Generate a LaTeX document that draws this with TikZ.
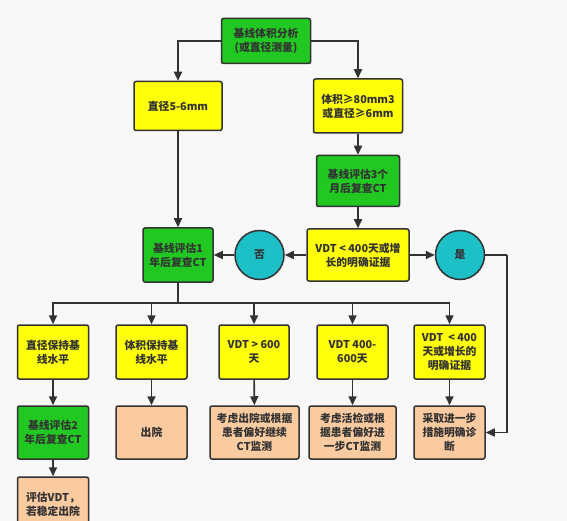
\documentclass[tikz,border=0pt]{standalone}
\usepackage{fontspec}
\newfontfamily\cjk{Noto Sans CJK SC}
\usetikzlibrary{arrows.meta}
\definecolor{boxgreen}{RGB}{34,200,34}
\definecolor{boxyellow}{RGB}{255,255,10}
\definecolor{boxpeach}{RGB}{250,202,160}
\definecolor{boxteal}{RGB}{30,192,200}
\definecolor{edge}{RGB}{50,50,50}
\definecolor{paper}{RGB}{248,248,248}
\tikzset{
  box/.style={draw=edge, line width=1.5pt, rounded corners=2pt, align=center,
    inner sep=1pt, text=edge, font=\cjk\bfseries\fontsize{10.8}{14}\selectfont},
  greenbox/.style={box, fill=boxgreen},
  yellowbox/.style={box, fill=boxyellow},
  peachbox/.style={box, fill=boxpeach},
  answer/.style={box, circle, fill=boxteal, minimum size=49pt, rounded corners=0pt},
  arr/.style={draw=edge, line width=1.6pt, -{Triangle[length=9pt,width=8pt]}},
  link/.style={draw=edge, line width=1.6pt}
}
\begin{document}
\begin{tikzpicture}[x=1pt,y=1pt]
    \fill[paper] (0,0) rectangle (567,-521);
    \useasboundingbox (0,0) rectangle (567,-521);
    % top part
    \node[greenbox, minimum width=89pt, minimum height=45pt] (base) at (266,-41) {基线体积分析\\(或直径测量)};
    \node[yellowbox, minimum width=88pt, minimum height=49pt] (diam) at (178,-106) {直径5-6mm};
    \node[yellowbox, minimum width=89pt, minimum height=54pt] (big) at (358,-106) {体积≥80mm3\\或直径≥6mm};
    \node[greenbox, minimum width=83pt, minimum height=51pt] (ct3m) at (358,-181) {基线评估3个\\月后复查CT};
    \node[greenbox, minimum width=70pt, minimum height=54pt] (ct1y) at (178,-255) {基线评估1\\年后复查CT};
    \node[answer] (no) at (259.5,-255) {否};
    \node[yellowbox, minimum width=102pt, minimum height=52pt] (vdt) at (358,-255) {VDT < 400天或增\\长的明确证据};
    \node[answer] (yes) at (460,-255) {是};
    % middle row
    \node[yellowbox, minimum width=71pt, minimum height=54pt] (r1) at (53,-352) {直径保持基\\线水平};
    \node[yellowbox, minimum width=71pt, minimum height=54pt] (r2) at (151.5,-352) {体积保持基\\线水平};
    \node[yellowbox, minimum width=70pt, minimum height=54pt] (r3) at (254,-352) {VDT > 600\\天};
    \node[yellowbox, minimum width=71pt, minimum height=54pt] (r4) at (352.5,-352) {VDT 400-\\600天};
    \node[yellowbox, minimum width=71pt, minimum height=54pt] (r5) at (449.5,-352) {VDT \ < 400\\天或增长的\\明确证据};
    % lower row
    \node[greenbox, minimum width=71pt, minimum height=53pt] (s1) at (53,-432.5) {基线评估2\\年后复查CT};
    \node[peachbox, minimum width=71pt, minimum height=53pt] (s2) at (151.5,-432.5) {出院};
    \node[peachbox, minimum width=89pt, minimum height=53pt] (s3) at (254.5,-432.5) {考虑出院或根据\\患者偏好继续\\CT监测};
    \node[peachbox, minimum width=87pt, minimum height=53pt] (s4) at (352.5,-432.5) {考虑活检或根\\据患者偏好进\\一步CT监测};
    \node[peachbox, minimum width=71pt, minimum height=53pt] (s5) at (449.5,-432.5) {采取进一步\\措施明确诊\\断};
    \node[peachbox, minimum width=71pt, minimum height=55pt] (last) at (53,-504.5) {评估VDT，\\若稳定出院};
    \coordinate (split) at (178,-303);
    \coordinate (turn) at (507,-255);
    % connectors
    \draw[arr] (base.west) -| (diam.north);
    \draw[arr] (base.east) -| (big.north);
    \draw[arr] (big) -- (ct3m);
    \draw[arr] (ct3m) -- (vdt);
    \draw[arr] (diam) -- (ct1y);
    \draw[arr] (vdt) -- (no);
    \draw[arr] (no) -- (ct1y);
    \draw[arr] (vdt) -- (yes);
    \draw[link] (yes.east) -- (turn);
    \draw[arr] (turn) |- (s5.east);
    \draw[link] (ct1y.south) -- (split);
    \foreach \i in {1,...,5}
        \draw[arr] (split) -| (r\i.north);
    \foreach \i in {1,...,5}
        \draw[arr] (r\i) -- (s\i);
    \draw[arr] (s1) -- (last);
\end{tikzpicture}
\end{document}
